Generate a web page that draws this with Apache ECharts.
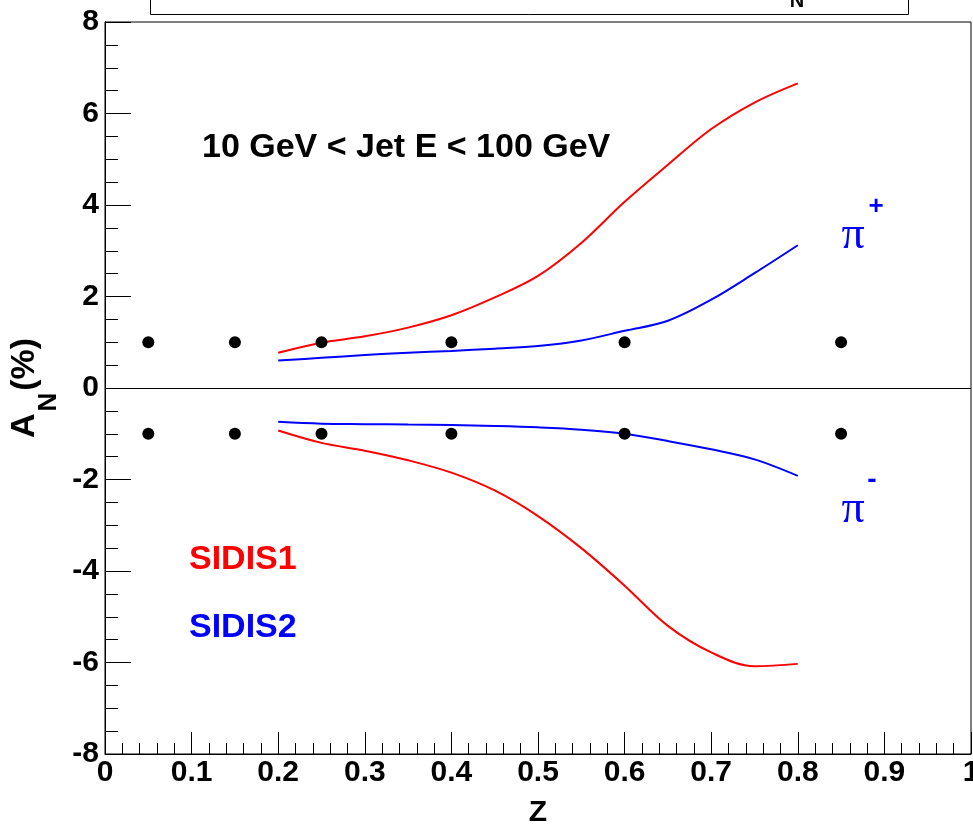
<!DOCTYPE html>
<html>
<head>
<meta charset="utf-8">
<script src="https://cdn.jsdelivr.net/npm/echarts@6/dist/echarts.min.js"></script>
<style>
html,body{margin:0;padding:0;background:#fff;}
#chart{width:973px;height:825px;}
</style>
</head>
<body>
<div id="chart"></div>
<script>
// z grid for the model curves
const zGrid = [0.20, 0.25, 0.30, 0.35, 0.40, 0.45, 0.50, 0.55, 0.60, 0.65, 0.70, 0.75, 0.80];
// SIDIS1 (red) and SIDIS2 (blue), pi+ and pi-
const sidis1PiPlus  = [0.77, 0.99, 1.13, 1.32, 1.59, 1.98, 2.45, 3.17, 4.07, 4.88, 5.66, 6.24, 6.66];
const sidis2PiPlus  = [0.60, 0.66, 0.72, 0.77, 0.81, 0.86, 0.92, 1.04, 1.25, 1.47, 1.93, 2.51, 3.12];
const sidis1PiMinus = [-0.93, -1.20, -1.37, -1.58, -1.85, -2.24, -2.80, -3.50, -4.32, -5.20, -5.78, -6.08, -6.03];
const sidis2PiMinus = [-0.74, -0.78, -0.79, -0.80, -0.81, -0.83, -0.86, -0.91, -1.00, -1.16, -1.34, -1.56, -1.92];
// black projection points
const dotZ = [0.05, 0.15, 0.25, 0.40, 0.60, 0.85];
const dotPlus = [1, 1, 1, 1, 1, 1];
const dotMinus = [-1, -1, -1, -1, -1, -1];

const zip = (xs, ys) => xs.map((x, i) => [x, ys[i]]);
const FONT = '"Liberation Sans", Arial, Helvetica, sans-serif';
const RED = '#ff0000', BLUE = '#0000ff';

const chart = echarts.init(document.getElementById('chart'), null, {renderer: 'canvas'});

function curve(name, data, color) {
  return {
    name, type: 'line', data, smooth: 0.35, showSymbol: false, symbol: 'none',
    lineStyle: {color, width: 2}, z: 2, silent: true, animation: false
  };
}

function txt(x, y, text, font, fill, align) {
  return {type: 'text', x, y, z: 11, silent: true,
    style: {text, font, fill, textAlign: align, textVerticalAlign: 'middle', align, verticalAlign: 'middle'}};
}

const option = {
  animation: false,
  backgroundColor: '#ffffff',
  grid: {left: 105, right: 2, top: 22, bottom: 71, show: true, borderColor: '#000', borderWidth: 1,
         backgroundColor: 'transparent', containLabel: false, outerBoundsMode: 'none'},
  xAxis: {
    type: 'value', min: 0, max: 1, interval: 0.1,
    name: 'Z', nameLocation: 'middle', nameGap: 44,
    nameTextStyle: {fontFamily: FONT, fontWeight: 'bold', fontSize: 30, color: '#000'},
    axisLine: {show: true, onZero: false, lineStyle: {color: '#000', width: 1}},
    axisTick: {show: true, inside: true, length: 22, lineStyle: {color: '#000', width: 1}},
    minorTick: {show: true, splitNumber: 5, length: 11, lineStyle: {color: '#000', width: 1}},
    splitLine: {show: false}, minorSplitLine: {show: false},
    axisLabel: {
      fontFamily: FONT, fontWeight: 'bold', fontSize: 30, color: '#000', margin: 4,
      formatter: v => (Math.abs(v) < 1e-9 ? '0' : (Math.abs(v - 1) < 1e-9 ? '1' : v.toFixed(1)))
    }
  },
  yAxis: {
    type: 'value', min: -8, max: 8, interval: 2,
    name: '{a|A}{s|N}{a|(%)}', nameLocation: 'middle', nameGap: 56, nameRotate: 90,
    nameTextStyle: {
      rich: {
        a: {fontFamily: FONT, fontWeight: 'bold', fontSize: 34, color: '#000', lineHeight: 38, verticalAlign: 'middle'},
        s: {fontFamily: FONT, fontWeight: 'bold', fontSize: 26, color: '#000', lineHeight: 26, padding: [30, 2, 0, 2], verticalAlign: 'top'}
      }
    },
    axisLine: {show: true, onZero: false, lineStyle: {color: '#000', width: 1}},
    axisTick: {show: true, inside: true, length: 26, lineStyle: {color: '#000', width: 1}},
    minorTick: {show: true, splitNumber: 4, length: 13, lineStyle: {color: '#000', width: 1}},
    splitLine: {show: false}, minorSplitLine: {show: false},
    axisLabel: {fontFamily: FONT, fontWeight: 'bold', fontSize: 30, color: '#000', margin: 6}
  },
  series: [
    curve('SIDIS1 pi+', zip(zGrid, sidis1PiPlus), RED),
    curve('SIDIS2 pi+', zip(zGrid, sidis2PiPlus), BLUE),
    curve('SIDIS1 pi-', zip(zGrid, sidis1PiMinus), RED),
    curve('SIDIS2 pi-', zip(zGrid, sidis2PiMinus), BLUE),
    {
      name: 'points', type: 'scatter', symbol: 'circle', symbolSize: 12,
      itemStyle: {color: '#000', opacity: 1}, z: 5, silent: true,
      data: zip(dotZ, dotPlus).concat(zip(dotZ, dotMinus)),
      markLine: {
        silent: true, symbol: ['none', 'none'], label: {show: false},
        lineStyle: {color: '#000', type: 'solid', width: 1},
        data: [{yAxis: 0}]
      }
    }
  ],
  graphic: [
    {type: 'rect', left: 150, top: -10, shape: {width: 758, height: 24}, style: {fill: '#fff', stroke: '#000', lineWidth: 1}, z: 10, silent: true},
    txt(797, 1, 'N', 'bold 20px ' + FONT, '#000', 'center'),
    txt(202, 148, '10 GeV < Jet E < 100 GeV', 'bold 34px ' + FONT, '#000', 'left'),
    txt(189, 560, 'SIDIS1', 'bold 34px ' + FONT, RED, 'left'),
    txt(189, 628, 'SIDIS2', 'bold 34px ' + FONT, BLUE, 'left'),
    txt(853, 236, 'π', '46px "Liberation Serif", "DejaVu Serif", serif', BLUE, 'center'),
    txt(876, 207, '+', 'bold 26px ' + FONT, BLUE, 'center'),
    txt(853, 510, 'π', '46px "Liberation Serif", "DejaVu Serif", serif', BLUE, 'center'),
    txt(872, 480, '-', 'bold 28px ' + FONT, BLUE, 'center')
  ]
};
chart.setOption(option);
</script>
</body>
</html>
